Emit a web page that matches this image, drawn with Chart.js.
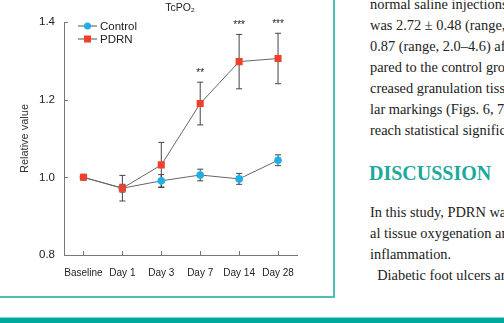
<!DOCTYPE html>
<html>
<head>
<meta charset="utf-8">
<script src="https://cdn.jsdelivr.net/npm/chart.js@4.4.1/dist/chart.umd.min.js"></script>
<style>
  html, body { margin: 0; padding: 0; background: #fff; }
  body { width: 504px; height: 323px; position: relative; overflow: hidden; }
  #box { position: absolute; left: -20px; top: -20px; width: 355px; height: 318px;
         box-sizing: border-box; border: 2px solid #4cbfb6; }
  #chartWrap { position: absolute; left: 0; top: 0; width: 334px; height: 296px; }
  .col { position: absolute; left: 370px; font-family: 'Liberation Serif', 'DejaVu Serif', serif;
         font-size: 14.4px; line-height: 21px; color: #222; white-space: nowrap; }
  #head { position: absolute; left: 369px; top: 161px; font-family: 'Liberation Serif', serif;
          font-weight: bold; font-size: 20px; line-height: 24px; color: #1aa99c; white-space: nowrap; }
  #bar { position: absolute; left: 0; top: 317px; width: 504px; height: 6px; background: #00a99d;
         border-top: 1px solid #7fd8d2; }
</style>
</head>
<body>
<div id="box"></div>
<div id="chartWrap"><canvas id="chart"></canvas></div>
<div class="col" style="top:-6.5px">
  normal saline injections.<br>
  was 2.72 ± 0.48 (range,<br>
  0.87 (range, 2.0–4.6) after<br>
  pared to the control group<br>
  creased granulation tissue<br>
  lar markings (Figs. 6, 7<br>
  reach statistical significance
</div>
<div id="head">DISCUSSION</div>
<div class="col" style="top:202px">
  In this study, PDRN was<br>
  al tissue oxygenation and<br>
  inflammation.<br>
  &nbsp;&nbsp;Diabetic foot ulcers are
</div>
<div id="bar"></div>
<script>
const categories = ['Baseline', 'Day 1', 'Day 3', 'Day 7', 'Day 14', 'Day 28'];
const controlMean = [1.0, 0.972, 0.991, 1.006, 0.996, 1.044];
const controlErr = [0, 0.01, 0.016, 0.015, 0.014, 0.014];
const pdrnMean = [1.0, 0.972, 1.032, 1.19, 1.298, 1.306];
const pdrnErr = [0, 0.033, 0.058, 0.055, 0.07, 0.065];
const significance = ['', '', '', '**', '***', '***'];
const yTicks = [0.8, 1.0, 1.2, 1.4];

const sans = "'Liberation Sans', Arial, sans-serif";
const controlColor = '#1bb0e6';
const pdrnColor = '#f0402a';

// error bars, inward axis ticks, stars, title and legend
const extras = {
  id: 'extras',
  beforeDatasetsDraw(chart) {
    const ctx = chart.ctx;
    const x = chart.scales.x, y = chart.scales.y;
    ctx.save();
    ctx.strokeStyle = '#444';
    ctx.lineWidth = 1;
    [[controlMean, controlErr], [pdrnMean, pdrnErr]].forEach(([m, e]) => {
      m.forEach((v, i) => {
        if (!e[i]) return;
        const px = x.getPixelForValue(i);
        const top = y.getPixelForValue(v + e[i]);
        const bot = y.getPixelForValue(v - e[i]);
        ctx.beginPath();
        ctx.moveTo(px, top); ctx.lineTo(px, bot);
        ctx.moveTo(px - 3, top); ctx.lineTo(px + 3, top);
        ctx.moveTo(px - 3, bot); ctx.lineTo(px + 3, bot);
        ctx.stroke();
      });
    });
    ctx.restore();
  },
  afterDraw(chart) {
    const ctx = chart.ctx;
    const x = chart.scales.x, y = chart.scales.y;
    const area = chart.chartArea;
    ctx.save();
    ctx.strokeStyle = '#777';
    ctx.lineWidth = 1;
    ctx.beginPath();
    yTicks.forEach(t => {
      const py = Math.round(y.getPixelForValue(t)) + 0.5;
      ctx.moveTo(area.left, py); ctx.lineTo(area.left + 4, py);
    });
    categories.forEach((c, i) => {
      const px = Math.round(x.getPixelForValue(i)) + 0.5;
      ctx.moveTo(px, area.bottom); ctx.lineTo(px, area.bottom - 4);
    });
    ctx.stroke();

    ctx.fillStyle = '#222';
    ctx.textAlign = 'center';
    ctx.textBaseline = 'middle';
    ctx.font = '10px ' + sans;
    significance.forEach((s, i) => {
      if (!s) return;
      const py = y.getPixelForValue(pdrnMean[i] + pdrnErr[i]) - 9;
      ctx.fillText(s, x.getPixelForValue(i), py);
    });

    ctx.font = '10.5px ' + sans;
    ctx.fillText('TcPO₂', 180, 8);

    // legend
    const items = [['Control', controlColor, 'circle', 26], ['PDRN', pdrnColor, 'rect', 39]];
    items.forEach(([label, color, shape, ly]) => {
      ctx.strokeStyle = '#555';
      ctx.beginPath();
      ctx.moveTo(78, ly); ctx.lineTo(97, ly);
      ctx.stroke();
      ctx.fillStyle = color;
      if (shape === 'circle') {
        ctx.beginPath();
        ctx.arc(87.5, ly, 3.5, 0, Math.PI * 2);
        ctx.fill();
      } else {
        ctx.fillRect(84, ly - 3.5, 7, 7);
      }
      ctx.fillStyle = '#222';
      ctx.textAlign = 'left';
      ctx.font = '11.5px ' + sans;
      ctx.fillText(label, 100, ly + 0.5);
    });
    ctx.restore();
  }
};

new Chart(document.getElementById('chart'), {
  type: 'line',
  data: {
    labels: categories,
    datasets: [
      {
        label: 'PDRN',
        data: pdrnMean,
        borderColor: '#666',
        borderWidth: 1,
        pointStyle: 'rect',
        pointRadius: 5,
        pointBackgroundColor: pdrnColor,
        pointBorderColor: pdrnColor,
        pointBorderWidth: 0,
        tension: 0
      },
      {
        label: 'Control',
        data: controlMean,
        borderColor: '#666',
        borderWidth: 1,
        pointStyle: 'circle',
        pointRadius: 3.8,
        pointBackgroundColor: controlColor,
        pointBorderColor: controlColor,
        pointBorderWidth: 0,
        tension: 0
      }
    ]
  },
  options: {
    responsive: true,
    maintainAspectRatio: false,
    animation: false,
    layout: { padding: { top: 22, right: 36.5, left: 0, bottom: 0 } },
    plugins: {
      legend: { display: false },
      title: { display: false },
      tooltip: { enabled: false }
    },
    scales: {
      x: {
        offset: true,
        afterFit: s => { s.height = 41; },
        grid: { display: true, drawOnChartArea: false, drawTicks: false },
        border: { display: true, color: '#777', width: 1 },
        ticks: {
          color: '#222', padding: 12, maxRotation: 0, minRotation: 0, autoSkip: false,
          font: { family: sans, size: 10 }
        }
      },
      y: {
        min: 0.8,
        max: 1.4,
        afterFit: s => { s.width = 64; },
        afterBuildTicks: s => { s.ticks = yTicks.map(v => ({ value: v })); },
        grid: { display: true, drawOnChartArea: false, drawTicks: false },
        border: { display: true, color: '#777', width: 1 },
        ticks: {
          color: '#222',
          padding: 9,
          font: { family: sans, size: 11.5 },
          callback: v => v.toFixed(1)
        },
        title: {
          display: true,
          text: 'Relative value',
          color: '#333',
          padding: { top: 18, bottom: 0 },
          font: { family: sans, size: 11 }
        }
      }
    }
  },
  plugins: [extras]
});
</script>
</body>
</html>
